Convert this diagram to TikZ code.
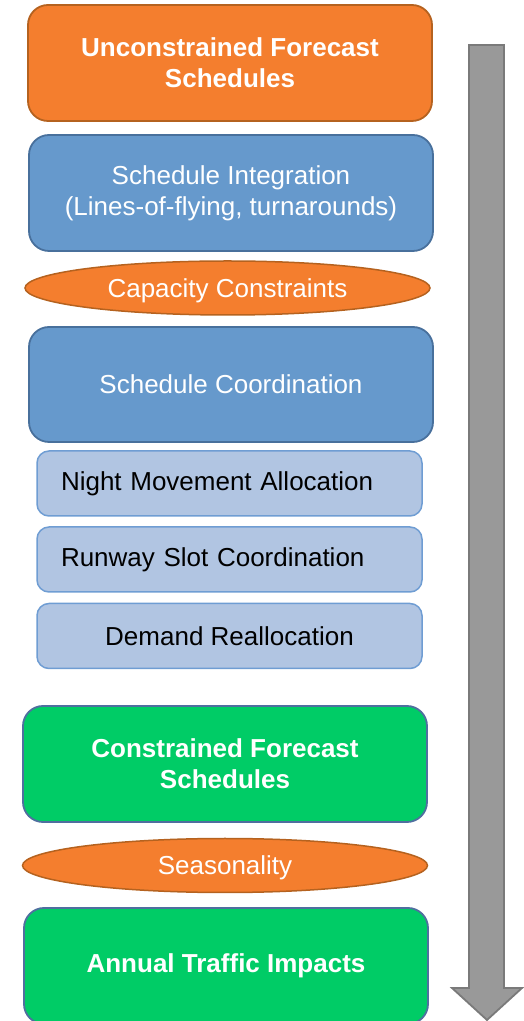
\documentclass[tikz,border=0pt]{standalone}
\usepackage{fontspec}
\setmainfont{Liberation Sans}
\usetikzlibrary{shapes.geometric}
\definecolor{orfill}{HTML}{F47E2E}
\definecolor{ordraw}{HTML}{B5621F}
\definecolor{bufill}{HTML}{6699CC}
\definecolor{budraw}{HTML}{48709C}
\definecolor{lbfill}{HTML}{B1C5E2}
\definecolor{lbdraw}{HTML}{6F9DD3}
\definecolor{grfill}{HTML}{00CC66}
\definecolor{grdraw}{HTML}{4F6F9F}
\definecolor{arfill}{HTML}{999999}
\definecolor{ardraw}{HTML}{7A7A7A}
\tikzset{
  txt/.style={font=\fontsize{26}{31}\selectfont, align=center},
  bigbox/.style={txt, rectangle, rounded corners=20pt, line width=1.8pt,
    minimum width=404pt, minimum height=116pt, inner sep=0pt},
  orbox/.style={bigbox, fill=orfill, draw=ordraw, text=white},
  bubox/.style={bigbox, fill=bufill, draw=budraw, text=white},
  grbox/.style={bigbox, fill=grfill, draw=grdraw, text=white},
  lbbox/.style={txt, rectangle, rounded corners=12pt, line width=1.5pt,
    fill=lbfill, draw=lbdraw, text=black, minimum width=385pt, minimum height=65pt,
    inner ysep=0pt},
  lbleft/.style={lbbox, align=left, inner xsep=24pt, text width=337pt},
  orell/.style={txt, ellipse, fill=orfill, draw=ordraw, line width=1.5pt, text=white,
    minimum width=405pt, minimum height=54pt, inner sep=0pt, text depth=0pt},
  bigarrow/.style={fill=arfill, draw=ardraw, line width=1.8pt}
}
\begin{document}
\begin{tikzpicture}[x=1pt,y=1pt]
\useasboundingbox (0,0) rectangle (524,1021);
% arrow
\draw[bigarrow] (469,{1021-45}) -- (504,{1021-45}) -- (504,{1021-988}) -- (522,{1021-988})
  -- (487,{1021-1020}) -- (452,{1021-988}) -- (469,{1021-988}) -- cycle;
\node[orbox] (ufs) at (230,{1021-63}) {\bfseries Unconstrained Forecast\\\bfseries Schedules};
\node[bubox] (si) at (231,{1021-193}) {Schedule Integration\\(Lines-of-flying, turnarounds)};
\node[orell] (cc) at (227.5,{1021-288}) {Capacity Constraints};
\node[bubox, minimum height=115pt] (sc) at (231,{1021-384.5}) {Schedule Coordination};
\node[lbleft] (nma) at (229.5,{1021-483.5}) {Night Movement Allocation};
\node[lbleft] (rsc) at (229.5,{1021-559.5}) {Runway Slot Coordination};
\node[lbbox] (dr) at (229.5,{1021-636}) {Demand Reallocation};
\node[grbox] (cfs) at (225,{1021-764}) {\bfseries Constrained Forecast\\\bfseries Schedules};
\node[orell] (sea) at (225,{1021-865.5}) {Seasonality};
\node[grbox] (ati) at (226,{1021-966}) {\bfseries Annual Traffic Impacts};
\end{tikzpicture}
\end{document}
